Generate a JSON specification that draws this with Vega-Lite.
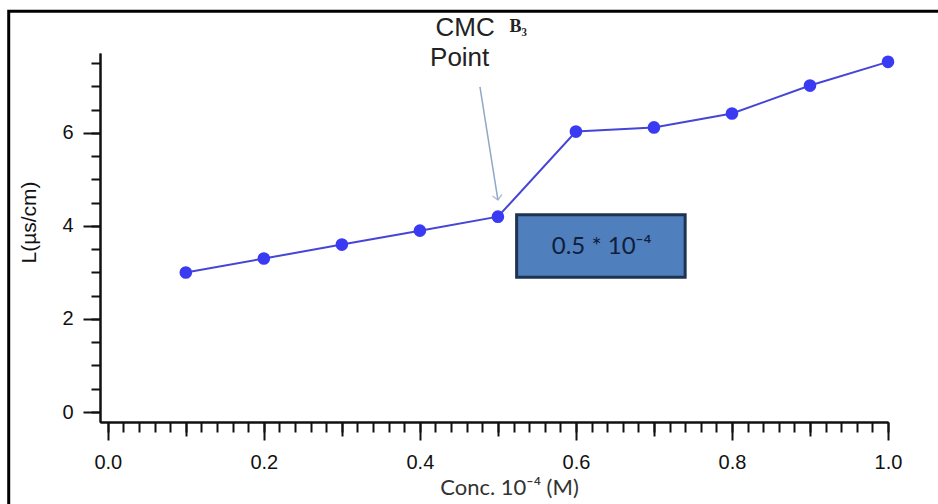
{
  "$schema": "https://vega.github.io/schema/vega-lite/v6.json",
  "width": 788,
  "height": 369,
  "autosize": "none",
  "padding": {"left": 100, "top": 53, "right": 50, "bottom": 82},
  "background": "white",
  "config": {"view": {"stroke": null}, "axis": {"grid": false}},
  "datasets": {
    "main": [
      {"conc": 0.1, "L": 3.0},
      {"conc": 0.2, "L": 3.3},
      {"conc": 0.3, "L": 3.6},
      {"conc": 0.4, "L": 3.9},
      {"conc": 0.5, "L": 4.2},
      {"conc": 0.6, "L": 6.03},
      {"conc": 0.7, "L": 6.12},
      {"conc": 0.8, "L": 6.42},
      {"conc": 0.9, "L": 7.02},
      {"conc": 1.0, "L": 7.53}
    ]
  },
  "resolve": {"axis": {"x": "independent", "y": "independent"}},
  "layer": [
    {
      "data": {"values": [{"frame": "outer"}]},
      "mark": {"type": "rect", "fill": "transparent", "stroke": "#000", "strokeWidth": 3},
      "encoding": {
        "x": {"datum": -0.127, "type": "quantitative", "scale": {"domain": [-0.01, 1.0], "nice": false, "zero": false}, "axis": null},
        "x2": {"datum": 1.3},
        "y": {"datum": 8.62, "type": "quantitative", "scale": {"domain": [-0.215, 7.72], "nice": false, "zero": false}, "axis": null},
        "y2": {"datum": -2.5}
      }
    },
    {
      "data": {"name": "main"},
      "mark": {"type": "line", "color": "#4646d6", "strokeWidth": 2},
      "encoding": {
        "x": {"field": "conc", "type": "quantitative",
          "axis": {"orient": "bottom", "values": [0, 0.2, 0.4, 0.6, 0.8, 1.0], "format": ".1f", "tickSize": 18, "tickWidth": 2, "tickColor": "#111", "domainColor": "#111", "domainWidth": 2, "labelFont": "Liberation Sans", "labelFontSize": 20, "labelColor": "#111", "labelPadding": 12, "labelFlush": false, "labelOverlap": false, "title": "Conc. 10⁻⁴ (M)", "titleFont": "Lato", "titleFontSize": 22, "titleFontWeight": "normal", "titleColor": "#333", "titlePadding": 5, "titleX": 409}},
        "y": {"field": "L", "type": "quantitative",
          "axis": {"orient": "left", "values": [0, 2, 4, 6], "tickSize": 17, "tickWidth": 2, "tickColor": "#111", "domainColor": "#111", "domainWidth": 2, "labelFont": "Liberation Sans", "labelFontSize": 20, "labelColor": "#111", "labelPadding": 10, "title": "L(µs/cm)", "titleFont": "Liberation Sans", "titleFontSize": 21, "titleFontWeight": "normal", "titleColor": "#111", "titlePadding": 22, "titleY": 169}}
      }
    },
    {
      "data": {"name": "main"},
      "mark": {"type": "point", "filled": true, "color": "#3a3af2", "size": 160, "opacity": 1},
      "encoding": {
        "x": {"field": "conc", "type": "quantitative",
          "axis": {"orient": "bottom", "values": [0,0.02,0.04,0.06,0.08,0.1,0.12,0.14,0.16,0.18,0.2,0.22,0.24,0.26,0.28,0.3,0.32,0.34,0.36,0.38,0.4,0.42,0.44,0.46,0.48,0.5,0.52,0.54,0.56,0.58,0.6,0.62,0.64,0.66,0.68,0.7,0.72,0.74,0.76,0.78,0.8,0.82,0.84,0.86,0.88,0.9,0.92,0.94,0.96,0.98,1.0], "tickSize": 10, "tickWidth": 2, "tickColor": "#111", "domainColor": "#111", "domainWidth": 2, "labels": false, "title": null}},
        "y": {"field": "L", "type": "quantitative",
          "axis": {"orient": "left", "values": [0,0.5,1,1.5,2,2.5,3,3.5,4,4.5,5,5.5,6,6.5,7,7.5], "tickSize": 9, "tickWidth": 2, "tickColor": "#111", "domainColor": "#111", "domainWidth": 2, "labels": false, "title": null}}
      }
    },
    {
      "data": {"name": "main"},
      "mark": {"type": "point", "opacity": 0},
      "encoding": {
        "x": {"field": "conc", "type": "quantitative",
          "axis": {"orient": "bottom", "values": [0.1, 0.3, 0.5, 0.7, 0.9], "tickSize": 14, "tickWidth": 2, "tickColor": "#111", "domain": false, "labels": false, "title": null}},
        "y": {"field": "L", "type": "quantitative", "axis": null}
      }
    },
    {
      "data": {"values": [{"x": 0.477, "y": 6.99, "x2": 0.5, "y2": 4.56}]},
      "mark": {"type": "rule", "color": "#8fa9c6", "strokeWidth": 1.5},
      "encoding": {
        "x": {"field": "x", "type": "quantitative", "axis": null},
        "y": {"field": "y", "type": "quantitative", "axis": null},
        "x2": {"field": "x2"},
        "y2": {"field": "y2"}
      }
    },
    {
      "data": {"values": [{"x": 0.5, "y": 4.56}]},
      "mark": {"type": "point", "shape": "M-1,-1L0,0L1,-1", "filled": false, "stroke": "#8fa9c6", "strokeWidth": 1.5, "size": 90, "angle": 351},
      "encoding": {
        "x": {"field": "x", "type": "quantitative", "axis": null},
        "y": {"field": "y", "type": "quantitative", "axis": null}
      }
    },
    {
      "data": {"values": [{"x": 0.524, "x2": 0.740, "y": 4.24, "y2": 2.90}]},
      "mark": {"type": "rect", "fill": "#4f7fbd", "stroke": "#1e3350", "strokeWidth": 3},
      "encoding": {
        "x": {"field": "x", "type": "quantitative", "axis": null},
        "x2": {"field": "x2"},
        "y": {"field": "y", "type": "quantitative", "axis": null},
        "y2": {"field": "y2"}
      }
    },
    {
      "data": {"values": [{"x": 0.633, "y": 3.55, "label": "0.5 * 10⁻⁴"}]},
      "mark": {"type": "text", "font": "Lato", "fontSize": 24, "color": "#10203a", "align": "center", "baseline": "middle"},
      "encoding": {
        "x": {"field": "x", "type": "quantitative", "axis": null},
        "y": {"field": "y", "type": "quantitative", "axis": null},
        "text": {"field": "label"}
      }
    },
    {
      "data": {"values": [{"x": 0.458, "y": 8.25, "label": "CMC"}, {"x": 0.451, "y": 7.62, "label": "Point"}]},
      "mark": {"type": "text", "font": "Liberation Sans", "fontSize": 26, "color": "#222", "align": "center", "baseline": "middle"},
      "encoding": {
        "x": {"field": "x", "type": "quantitative", "axis": null},
        "y": {"field": "y", "type": "quantitative", "axis": null},
        "text": {"field": "label"}
      }
    },
    {
      "data": {"values": [{"x": 0.526, "y": 8.27, "label": "B₃"}]},
      "mark": {"type": "text", "font": "Liberation Serif", "fontSize": 18, "fontWeight": "bold", "color": "#222", "align": "center", "baseline": "middle"},
      "encoding": {
        "x": {"field": "x", "type": "quantitative", "axis": null},
        "y": {"field": "y", "type": "quantitative", "axis": null},
        "text": {"field": "label"}
      }
    }
  ]
}
